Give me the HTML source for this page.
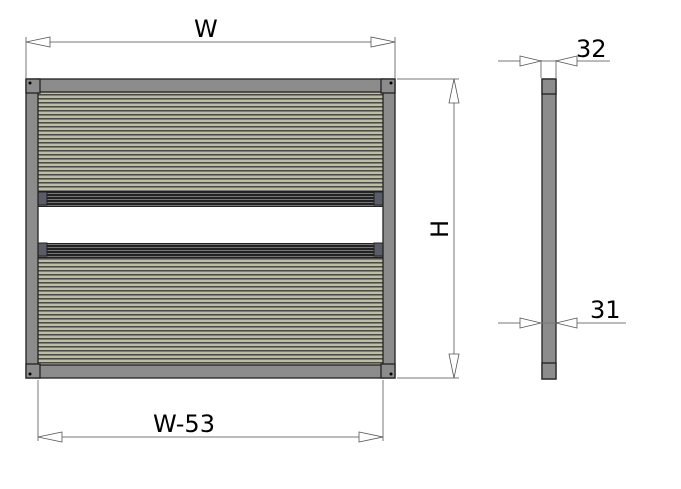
<!DOCTYPE html>
<html><head><style>
html,body{margin:0;padding:0;background:#fff;width:681px;height:489px;overflow:hidden}
svg{display:block}
text{font-family:"DejaVu Sans","Liberation Sans",sans-serif;fill:#000}
</style></head><body>
<svg width="681" height="489" viewBox="0 0 681 489" xmlns="http://www.w3.org/2000/svg">
<defs>
<pattern id="mesh" width="4" height="4" patternUnits="userSpaceOnUse">
<rect width="4" height="4" fill="#4a4a46"/>
<rect y="0" width="4" height="2" fill="#bdbda8"/>
<rect y="3" width="4" height="1" fill="#7e7e74"/>
</pattern>
<pattern id="rail" width="4" height="3" patternUnits="userSpaceOnUse">
<rect width="4" height="3" fill="#222"/>
<rect y="1" width="4" height="1" fill="#777"/>
</pattern>
</defs>
<rect x="38" y="92" width="345" height="274" fill="url(#mesh)"/>
<rect x="38" y="207" width="345" height="36" fill="#fff"/>
<rect x="38" y="190" width="345" height="17" fill="url(#rail)"/>
<rect x="38" y="243" width="345" height="15" fill="url(#rail)"/>
<rect x="38" y="192" width="9" height="13" fill="#5a5c68" stroke="#222"/>
<rect x="374" y="192" width="9" height="13" fill="#5a5c68" stroke="#222"/>
<rect x="38" y="243" width="9" height="13" fill="#5a5c68" stroke="#222"/>
<rect x="374" y="243" width="9" height="13" fill="#5a5c68" stroke="#222"/>
<g fill="#8c8c8c" stroke="#222" stroke-width="1.3">
<rect x="26" y="79" width="12" height="299"/>
<rect x="383" y="79" width="12" height="299"/>
<rect x="38" y="79" width="345" height="13"/>
<rect x="38" y="365" width="345" height="13"/>
<rect x="26" y="79" width="14" height="14"/>
<rect x="381" y="79" width="14" height="14"/>
<rect x="26" y="364" width="14" height="14"/>
<rect x="381" y="364" width="14" height="14"/>
</g>
<g fill="#000"><circle cx="30" cy="83" r="1.5"/><circle cx="391" cy="83" r="1.5"/><circle cx="30" cy="374" r="1.5"/><circle cx="391" cy="374" r="1.5"/></g>
<g fill="#8c8c8c" stroke="#222" stroke-width="1.3">
<rect x="542" y="79" width="14" height="300"/>
<rect x="542" y="79" width="14" height="15"/>
<rect x="542" y="363" width="14" height="16"/>
</g>
<g stroke="#777" stroke-width="1" fill="none">
<line x1="26" y1="37" x2="26" y2="78"/>
<line x1="395" y1="37" x2="395" y2="78"/>
<line x1="26" y1="42" x2="395" y2="42"/>
<line x1="397" y1="79" x2="459" y2="79"/>
<line x1="397" y1="378" x2="459" y2="378"/>
<line x1="454" y1="79" x2="454" y2="378"/>
<line x1="38" y1="380" x2="38" y2="441"/>
<line x1="383" y1="380" x2="383" y2="441"/>
<line x1="38" y1="437" x2="383" y2="437"/>
<line x1="541" y1="60" x2="541" y2="78"/>
<line x1="556" y1="60" x2="556" y2="78"/>
<line x1="498" y1="61" x2="610" y2="61"/>
<line x1="498" y1="323" x2="626" y2="323"/>
</g>
<g stroke="#555" stroke-width="0.8" fill="#fff">
<polygon points="26,42 50,37 50,47"/>
<polygon points="395,42 371,37 371,47"/>
<polygon points="454,79 449,103 459,103"/>
<polygon points="454,378 449,354 459,354"/>
<polygon points="38,437 62,432 62,442"/>
<polygon points="383,437 359,432 359,442"/>
<polygon points="541,61 520,56 520,66"/>
<polygon points="556,61 577,56 577,66"/>
<polygon points="541,323 520,318 520,328"/>
<polygon points="556,323 577,318 577,328"/>
</g>
<text x="194" y="37" font-size="24">W</text>
<text x="153" y="432" font-size="24">W-53</text>
<text x="576" y="57" font-size="24">32</text>
<text x="590" y="318" font-size="24">31</text>
<text transform="translate(448,229) rotate(-90)" font-size="24" text-anchor="middle">H</text>
</svg>
</body></html>
